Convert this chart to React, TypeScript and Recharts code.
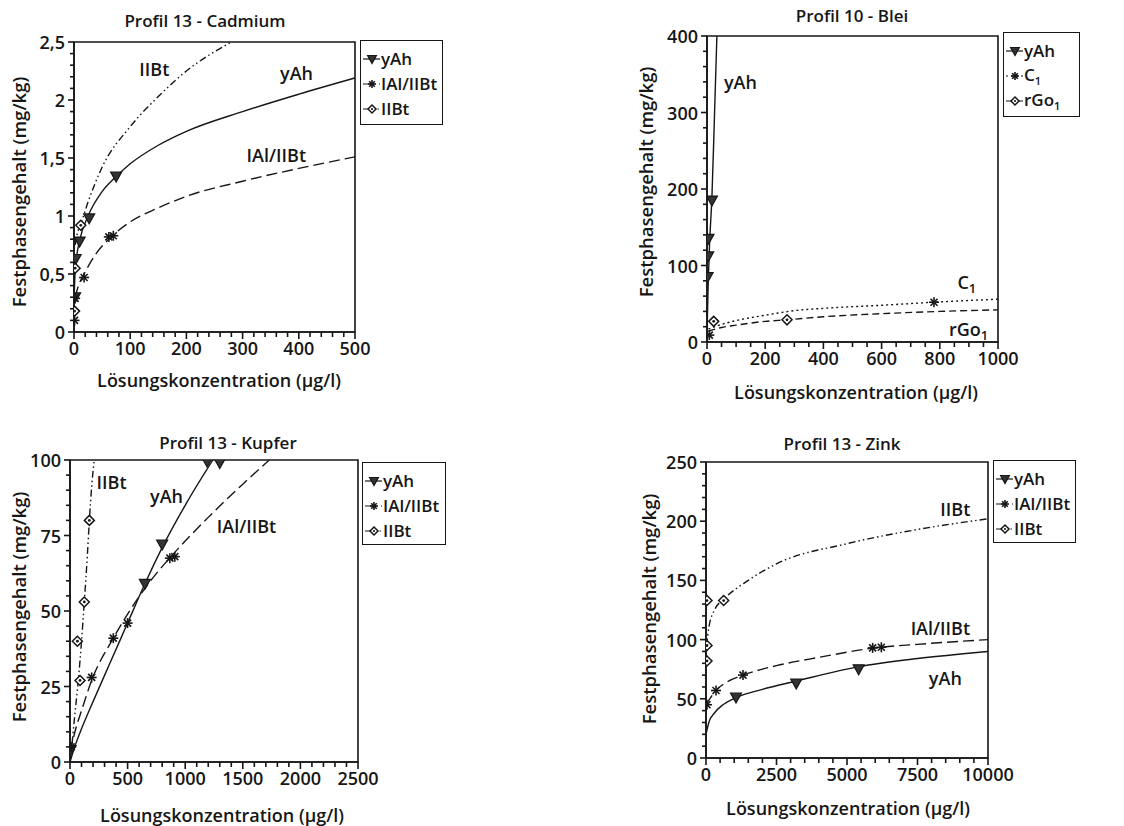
import React from 'react'
import { ComposedChart, Line, Scatter, XAxis, YAxis, ReferenceArea, ReferenceDot, ReferenceLine } from 'recharts'

// ---- Profil 13 - Cadmium (x: µg/l, y: mg/kg)
const cdYAhPoints = [[2, 0.3], [3, 0.63], [10, 0.78], [27, 0.98], [75, 1.34]]
const cdYAhCurve = [[0, 0.28], [2, 0.52], [5, 0.66], [10, 0.79], [25, 1.0], [50, 1.21], [75, 1.34], [100, 1.45], [150, 1.61], [200, 1.73], [300, 1.9], [400, 2.05], [500, 2.19]]
const cdIalPoints = [[1, 0.1], [2, 0.29], [18, 0.47], [62, 0.82], [70, 0.83]]
const cdIalCurve = [[2, 0.3], [8, 0.4], [18, 0.5], [40, 0.68], [62, 0.8], [100, 0.95], [150, 1.07], [200, 1.17], [300, 1.3], [400, 1.41], [500, 1.51]]
const cdIibtPoints = [[1, 0.18], [2, 0.55], [12, 0.92]]
const cdIibtCurve = [[2, 0.75], [6, 0.85], [12, 0.93], [25, 1.12], [50, 1.42], [100, 1.77], [150, 2.03], [200, 2.25], [280, 2.5]]
const cdXTicks = [0, 100, 200, 300, 400, 500]
const cdYTicks = [0, 0.5, 1, 1.5, 2, 2.5]

// ---- Profil 10 - Blei
const pbYAhPoints = [[2, 85], [4, 112], [5, 135], [17, 185]]
const pbYAhCurve = [[0, 10], [4, 75], [9, 130], [17, 190], [26, 300], [34, 400]]
const pbC1Points = [[8, 9], [780, 52]]
const pbC1Curve = [[5, 17], [50, 23], [100, 28], [200, 35], [300, 41], [400, 44], [600, 48], [780, 52], [1000, 56]]
const pbRGo1Points = [[23, 27], [275, 29]]
const pbRGo1Curve = [[5, 14], [50, 19], [100, 22], [200, 27], [275, 29], [400, 33], [600, 37], [800, 40], [1000, 42]]
const pbXTicks = [0, 200, 400, 600, 800, 1000]
const pbYTicks = [0, 100, 200, 300, 400]

// ---- Profil 13 - Kupfer
const cuYAhPoints = [[5, 4], [650, 59], [800, 72], [1190, 99.5], [1300, 99]]
const cuYAhCurve = [[0, 0], [50, 6], [100, 11], [200, 20], [350, 33], [500, 46], [650, 59], [800, 71], [1000, 85], [1240, 100]]
const cuIalPoints = [[10, 5], [188, 28], [376, 41], [500, 46], [867, 67.5], [910, 68]]
const cuIalCurve = [[0, 3], [50, 11], [100, 17], [188, 27], [376, 41], [500, 49], [700, 60], [900, 69], [1200, 81], [1500, 92], [1730, 100]]
const cuIibtPoints = [[64, 40], [87, 27], [124, 53], [168, 80]]
const cuIibtCurve = [[0, 0], [15, 5], [40, 15], [72, 27], [100, 40], [124, 53], [150, 68], [168, 80], [190, 92], [210, 100]]
const cuXTicks = [0, 500, 1000, 1500, 2000, 2500]
const cuYTicks = [0, 25, 50, 75, 100]

// ---- Profil 13 - Zink
const znYAhPoints = [[1064, 51], [3200, 63], [5414, 75]]
const znYAhCurve = [[0, 20], [100, 30], [300, 38], [600, 45], [1064, 51], [2000, 58], [3200, 65], [5400, 77], [7500, 84], [10000, 90]]
const znIalPoints = [[35, 45], [355, 57], [1312, 70], [5910, 93], [6217, 93.5]]
const znIalCurve = [[0, 45], [355, 57], [800, 65], [1312, 70], [2500, 78], [4000, 85], [6000, 93], [7500, 96], [10000, 100]]
const znIibtPoints = [[35, 133], [626, 133], [35, 95], [35, 82]]
const znIibtCurve = [[20, 95], [100, 110], [300, 125], [626, 134], [1500, 150], [2500, 164], [5000, 181], [7500, 193], [10000, 202]]
const znXTicks = [0, 2500, 5000, 7500, 10000]
const znYTicks = [0, 50, 100, 150, 200, 250]

const FONT = '"Open Sans", "DejaVu Sans", sans-serif'
const INK = '#161616'
const SOLID = ''
const LONGDASH = '11 5'
const DASHDOT = '7 3 1.5 3 1.5 3'
const DOTTED = '2 3'
const DASHED = '7 4'

type Shape = 'tri' | 'star' | 'diamond'

function Marker({ cx, cy, kind, k = 1 }: { cx: number; cy: number; kind: Shape; k?: number }) {
  if (kind === 'tri') {
    const s = 5.5 * k
    return (
      <path
        d={`M${cx - s},${cy - s * 0.8} L${cx + s},${cy - s * 0.8} L${cx},${cy + s} Z`}
        fill="#333"
        stroke={INK}
        strokeWidth={1.2}
      />
    )
  }
  if (kind === 'star') {
    const s = 5 * k
    const d = s * 0.7
    return (
      <g stroke={INK} strokeWidth={1.6}>
        <line x1={cx - s} y1={cy} x2={cx + s} y2={cy} />
        <line x1={cx} y1={cy - s} x2={cx} y2={cy + s} />
        <line x1={cx - d} y1={cy - d} x2={cx + d} y2={cy + d} />
        <line x1={cx - d} y1={cy + d} x2={cx + d} y2={cy - d} />
      </g>
    )
  }
  const s = 5 * k
  return (
    <g>
      <path d={`M${cx},${cy - s} L${cx + s},${cy} L${cx},${cy + s} L${cx - s},${cy} Z`} fill="#fff" stroke={INK} strokeWidth={1.5} />
      <circle cx={cx} cy={cy} r={1.4 * k} fill={INK} />
    </g>
  )
}

type Series = { name: string; sub?: string; curve: number[][]; points: number[][]; dash: string; shape: Shape }
type Note = { x: number; y: number; text: string; sub?: string }
type Box = { l: number; t: number; r: number; b: number }

const toPts = (a: number[][]) => a.map(([x, y]) => ({ x, y }))

// tick positions incl. unlabelled minor ticks
const steps = (max: number, step: number) => {
  const out: number[] = []
  for (let i = 0; i * step <= max + 1e-9; i++) out.push(Math.round(i * step * 1000) / 1000)
  return out
}

const deFmt = (v: number) => String(v).replace('.', ',')
const isMajor = (list: number[], v: number) => list.some((m) => Math.abs(m - v) < 1e-6)

// tickSize/tickMargin are 0, so x,y given to the tick sit on the axis line
function XTick(props: any) {
  const { x, y, payload, major } = props
  if (!isMajor(major, payload.value)) return <g />
  return (
    <text x={x} y={y + 23} textAnchor="middle" fontFamily={FONT} fontWeight={600} fontSize={18} fill={INK}>
      {payload.value}
    </text>
  )
}

function YTick(props: any) {
  const { x, y, payload, major, fmt } = props
  if (!isMajor(major, payload.value)) return <g />
  return (
    <text x={x - 9} y={y} textAnchor="end" dominantBaseline="central" fontFamily={FONT} fontWeight={600} fontSize={18} fill={INK}>
      {fmt(payload.value)}
    </text>
  )
}

function NoteLabel(props: any) {
  const { viewBox, note } = props
  const x = viewBox.x + (viewBox.width || 0) / 2
  const y = viewBox.y + (viewBox.height || 0) / 2
  return (
    <text x={x} y={y} textAnchor="middle" dominantBaseline="central" fontFamily={FONT} fontSize={18} fontWeight={600} fill={INK}>
      {note.text}
      {note.sub ? (
        <tspan fontSize={13} dy={6}>
          {note.sub}
        </tspan>
      ) : null}
    </text>
  )
}

const YW = 70
const MT = 12
const MR = 34
const XH = 44

interface PanelProps {
  title: string
  titlePos: [number, number]
  plot: Box
  xMax: number
  xMinor: number
  xMajor: number[]
  yMax: number
  yMinor: number
  yMajor: number[]
  yFmt?: (v: number) => string
  series: Series[]
  notes: Note[]
  legend: Box
  xLabelPos: [number, number]
  yLabelPos: [number, number]
}

function Panel(p: PanelProps) {
  const { plot } = p
  const pw = plot.r - plot.l
  const ph = plot.b - plot.t
  const w = pw + YW + MR
  const h = ph + MT + XH
  const yFmt = p.yFmt ?? ((v: number) => String(v))
  const textBase = { position: 'absolute' as const, whiteSpace: 'nowrap' as const, fontFamily: FONT, fontWeight: 600, color: INK }
  const xTickVals = steps(p.xMax, p.xMinor)
  const yTickVals = steps(p.yMax, p.yMinor)
  // tick marks drawn outside the frame: length in px converted to data units
  const xLen = (v: number) => ((isMajor(p.xMajor, v) ? 7 : 5) / ph) * p.yMax
  const yLen = (v: number) => ((isMajor(p.yMajor, v) ? 6 : 4) / pw) * p.xMax
  return (
    <>
      <div style={{ ...textBase, left: p.titlePos[0], top: p.titlePos[1], transform: 'translate(-50%, -50%)', fontSize: 17 }}>
        {p.title}
      </div>
      <div style={{ position: 'absolute', left: plot.l - YW, top: plot.t - MT }}>
        <ComposedChart width={w} height={h} margin={{ top: MT, right: MR, left: 0, bottom: 0 }}>
          <XAxis
            type="number"
            dataKey="x"
            domain={[0, p.xMax]}
            allowDataOverflow
            ticks={xTickVals}
            interval={0}
            height={XH}
            tickSize={0}
            tickMargin={0}
            tickLine={false}
            axisLine={{ stroke: INK, strokeWidth: 1.6 }}
            tick={(tp: any) => <XTick {...tp} major={p.xMajor} />}
          />
          <YAxis
            type="number"
            dataKey="y"
            domain={[0, p.yMax]}
            allowDataOverflow
            ticks={yTickVals}
            interval={0}
            width={YW}
            tickSize={0}
            tickMargin={0}
            tickLine={false}
            axisLine={{ stroke: INK, strokeWidth: 1.6 }}
            tick={(tp: any) => <YTick {...tp} major={p.yMajor} fmt={yFmt} />}
          />
          <ReferenceArea x1={0} x2={p.xMax} y1={0} y2={p.yMax} fill="none" stroke={INK} strokeWidth={1.6} />
          {xTickVals.map((v) => (
            <ReferenceLine
              key={'xt' + v}
              segment={[
                { x: v, y: 0 },
                { x: v, y: -xLen(v) },
              ]}
              ifOverflow="visible"
              stroke={INK}
              strokeWidth={1.6}
            />
          ))}
          {yTickVals.map((v) => (
            <ReferenceLine
              key={'yt' + v}
              segment={[
                { x: 0, y: v },
                { x: -yLen(v), y: v },
              ]}
              ifOverflow="visible"
              stroke={INK}
              strokeWidth={1.6}
            />
          ))}
          {p.series.map((s) => (
            <Line
              key={'c' + s.name}
              data={toPts(s.curve)}
              dataKey="y"
              type="monotone"
              stroke={INK}
              strokeWidth={1.4}
              strokeDasharray={s.dash || undefined}
              dot={false}
              activeDot={false}
              isAnimationActive={false}
            />
          ))}
          {p.series.map((s) => (
            <Scatter
              key={'p' + s.name}
              data={toPts(s.points)}
              dataKey="y"
              isAnimationActive={false}
              shape={(sp: any) => <Marker cx={sp.cx} cy={sp.cy} kind={s.shape} />}
            />
          ))}
          {p.notes.map((n) => (
            <ReferenceDot
              key={'n' + n.text}
              x={n.x}
              y={n.y}
              r={0}
              fill="none"
              stroke="none"
              label={<NoteLabel note={n} />}
            />
          ))}
        </ComposedChart>
      </div>
      <div style={{ ...textBase, left: p.xLabelPos[0], top: p.xLabelPos[1], transform: 'translate(-50%, -50%)', fontSize: 18 }}>
        Lösungskonzentration (µg/l)
      </div>
      <div
        style={{ ...textBase, left: p.yLabelPos[0], top: p.yLabelPos[1], transform: 'translate(-50%, -50%) rotate(-90deg)', fontSize: 18.5 }}
      >
        Festphasengehalt (mg/kg)
      </div>
      <div
        style={{
          position: 'absolute',
          left: p.legend.l,
          top: p.legend.t,
          width: p.legend.r - p.legend.l,
          height: p.legend.b - p.legend.t,
          boxSizing: 'border-box',
          border: `1.5px solid ${INK}`,
          padding: '5px 0 0 2px',
          fontFamily: FONT,
          fontWeight: 600,
          fontSize: 17,
          color: INK,
          background: '#fff',
        }}
      >
        {p.series.map((s) => (
          <div key={s.name} style={{ display: 'flex', alignItems: 'center', height: 25, lineHeight: '20px', whiteSpace: 'nowrap' }}>
            <svg width={17} height={14} style={{ marginRight: 1, flex: 'none' }}>
              <line x1={0} y1={7} x2={17} y2={7} stroke={INK} strokeWidth={1.2} strokeDasharray={s.dash || undefined} />
              <Marker cx={9} cy={7} kind={s.shape} k={0.8} />
            </svg>
            <span>
              {s.name}
              {s.sub ? <span style={{ fontSize: 11, position: 'relative', top: 4 }}>{s.sub}</span> : null}
            </span>
          </div>
        ))}
      </div>
    </>
  )
}

export default function App() {
  return (
    <div style={{ position: 'absolute', left: 0, top: 0, width: 1124, height: 826, background: '#fff', overflow: 'hidden' }}>
      <Panel
        title="Profil 13 - Cadmium"
        titlePos={[205, 20]}
        plot={{ l: 74, t: 42, r: 355, b: 332 }}
        xMax={500}
        xMinor={20}
        xMajor={cdXTicks}
        yMax={2.5}
        yMinor={0.1}
        yMajor={cdYTicks}
        yFmt={deFmt}
        series={[
          { name: 'yAh', curve: cdYAhCurve, points: cdYAhPoints, dash: SOLID, shape: 'tri' },
          { name: 'IAl/IIBt', curve: cdIalCurve, points: cdIalPoints, dash: LONGDASH, shape: 'star' },
          { name: ' IIBt', curve: cdIibtCurve, points: cdIibtPoints, dash: DASHDOT, shape: 'diamond' },
        ]}
        notes={[
          { x: 143, y: 2.27, text: 'IIBt' },
          { x: 396, y: 2.23, text: 'yAh' },
          { x: 360, y: 1.53, text: 'IAl/IIBt' },
        ]}
        legend={{ l: 360, t: 40, r: 443, b: 125 }}
        xLabelPos={[219, 380]}
        yLabelPos={[18, 192]}
      />
      <Panel
        title="Profil 10 - Blei"
        titlePos={[852, 15]}
        plot={{ l: 707, t: 36, r: 998, b: 342 }}
        xMax={1000}
        xMinor={50}
        xMajor={pbXTicks}
        yMax={400}
        yMinor={20}
        yMajor={pbYTicks}
        series={[
          { name: 'yAh', curve: pbYAhCurve, points: pbYAhPoints, dash: SOLID, shape: 'tri' },
          { name: 'C', sub: '1', curve: pbC1Curve, points: pbC1Points, dash: DOTTED, shape: 'star' },
          { name: 'rGo', sub: '1', curve: pbRGo1Curve, points: pbRGo1Points, dash: DASHED, shape: 'diamond' },
        ]}
        notes={[
          { x: 115, y: 340, text: 'yAh' },
          { x: 893, y: 79, text: 'C', sub: '1' },
          { x: 899, y: 17, text: 'rGo', sub: '1' },
        ]}
        legend={{ l: 1003, t: 32, r: 1080, b: 117 }}
        xLabelPos={[856, 392]}
        yLabelPos={[645, 182]}
      />
      <Panel
        title="Profil 13 - Kupfer"
        titlePos={[228, 442]}
        plot={{ l: 70, t: 460, r: 358, b: 762 }}
        xMax={2500}
        xMinor={100}
        xMajor={cuXTicks}
        yMax={100}
        yMinor={5}
        yMajor={cuYTicks}
        series={[
          { name: 'yAh', curve: cuYAhCurve, points: cuYAhPoints, dash: SOLID, shape: 'tri' },
          { name: 'IAl/IIBt', curve: cuIalCurve, points: cuIalPoints, dash: LONGDASH, shape: 'star' },
          { name: 'IIBt', curve: cuIibtCurve, points: cuIibtPoints, dash: DASHDOT, shape: 'diamond' },
        ]}
        notes={[
          { x: 361, y: 92.8, text: 'IIBt' },
          { x: 838, y: 88, text: 'yAh' },
          { x: 1532, y: 78, text: 'IAl/IIBt' },
        ]}
        legend={{ l: 362, t: 462, r: 446, b: 545 }}
        xLabelPos={[222, 815]}
        yLabelPos={[18, 607]}
      />
      <Panel
        title="Profil 13 - Zink"
        titlePos={[842, 443]}
        plot={{ l: 706, t: 462, r: 988, b: 758 }}
        xMax={10000}
        xMinor={500}
        xMajor={znXTicks}
        yMax={250}
        yMinor={10}
        yMajor={znYTicks}
        series={[
          { name: 'yAh', curve: znYAhCurve, points: znYAhPoints, dash: SOLID, shape: 'tri' },
          { name: 'IAl/IIBt', curve: znIalCurve, points: znIalPoints, dash: LONGDASH, shape: 'star' },
          { name: 'IIBt', curve: znIibtCurve, points: znIibtPoints, dash: DASHDOT, shape: 'diamond' },
        ]}
        notes={[
          { x: 8842, y: 210.7, text: 'IIBt' },
          { x: 8310, y: 109.5, text: 'IAl/IIBt' },
          { x: 8487, y: 67.4, text: 'yAh' },
        ]}
        legend={{ l: 993, t: 460, r: 1076, b: 543 }}
        xLabelPos={[848, 808]}
        yLabelPos={[648, 609]}
      />
    </div>
  )
}
